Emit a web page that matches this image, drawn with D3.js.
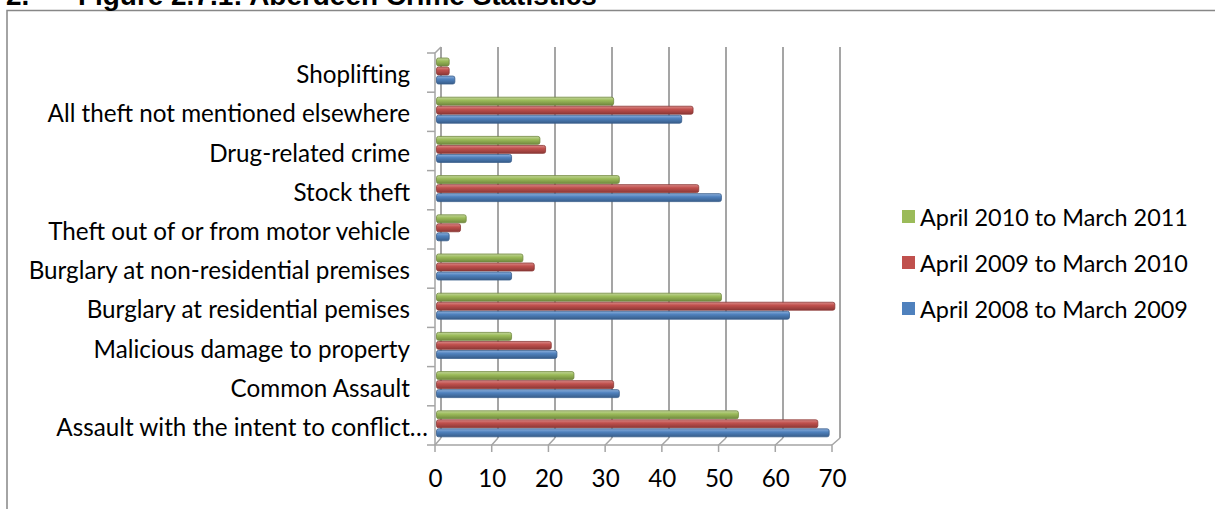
<!DOCTYPE html>
<html lang="en">
    <head>
        <meta charset="utf-8">
        <title>Aberdeen Crime Statistics</title>
        <script src="https://cdn.jsdelivr.net/npm/d3@7"></script>
        <style type="text/css">
            body {margin: 0; background: #fff; overflow: hidden;}
            svg {display: block;}
            text {font-family: Lato, "Noto Sans", sans-serif; fill: #000;}
        </style>
    </head>
    <body>
        <svg width="1215" height="509"></svg>
        <script>
            // data, top row first
            var categories = [
                'Shoplifting',
                'All theft not mentioned elsewhere',
                'Drug-related crime',
                'Stock theft',
                'Theft out of or from motor vehicle',
                'Burglary at non-residential premises',
                'Burglary at residential pemises',
                'Malicious damage to property',
                'Common Assault',
                'Assault with the intent to conflict\u2026'
            ];
            var seriesNames = ['April 2010 to March 2011', 'April 2009 to March 2010', 'April 2008 to March 2009'];
            var values2010 = [2.5, 31.5, 18.5, 32.5, 5.5, 15.5, 50.5, 13.5, 24.5, 53.5];
            var values2009 = [2.5, 45.5, 19.5, 46.5, 4.5, 17.5, 70.5, 20.5, 31.5, 67.5];
            var values2008 = [3.5, 43.5, 13.5, 50.5, 2.5, 13.5, 62.5, 21.5, 32.5, 69.5];
            var xTicks = [0, 10, 20, 30, 40, 50, 60, 70];

            var seriesValues = [values2010, values2009, values2008];
            var colors = [
                {base: '#9bbb59', light: '#c3d69b', dark: '#71893f'},
                {base: '#c0504d', light: '#da8a88', dark: '#8c3836'},
                {base: '#4f81bd', light: '#8eb0dc', dark: '#385d8a'}
            ];

            var svg = d3.select('svg');
            var defs = svg.append('defs');
            colors.forEach(function(c, i) {
                var g = defs.append('linearGradient')
                    .attr('id', 'bar' + i)
                    .attr('x1', 0).attr('y1', 0).attr('x2', 0).attr('y2', 1);
                g.append('stop').attr('offset', '0%').attr('stop-color', c.light);
                g.append('stop').attr('offset', '40%').attr('stop-color', c.base);
                g.append('stop').attr('offset', '100%').attr('stop-color', c.dark);
            });

            // frame + title (the title sits half above the page, as in the source)
            svg.append('path')
                .attr('d', 'M7,509V10.5H1215')
                .attr('fill', 'none')
                .attr('stroke', '#878787')
                .attr('stroke-width', 1.5);
            var title = svg.append('text')
                .attr('x', 78).attr('y', 5)
                .style('font-family', '"Liberation Sans", Arial, sans-serif')
                .style('font-weight', 'bold')
                .style('font-size', '21px')
                .text('Figure 2.7.1: Aberdeen Crime Statistics');
            var titleSize = 21 * 519 / title.node().getComputedTextLength();
            title.style('font-size', titleSize + 'px');
            svg.append('text')
                .attr('x', 6).attr('y', 5)
                .style('font-family', '"Liberation Sans", Arial, sans-serif')
                .style('font-weight', 'bold')
                .style('font-size', titleSize + 'px')
                .text('2.');

            // scales: front plane and back wall of the 3d plot
            var x = d3.scaleLinear().domain([0, 70]).range([435, 832]);
            var xBack = d3.scaleLinear().domain([0, 70]).range([441, 840]);
            var y = d3.scaleBand().domain(categories).range([53, 445]);
            var ySub = d3.scaleBand().domain(d3.range(3)).range([5, 31]).paddingInner(0.12);
            var backTop = 47, backBottom = 438, front = 445;

            // font sizes fitted to the reference text widths
            var probe = svg.append('text').style('font-size', '20px').text('Theft out of or from motor vehicle');
            var fontSize = 20 * 362 / probe.node().getComputedTextLength();
            probe.text(seriesNames[0]);
            var legendSize = 20 * 268 / probe.node().getComputedTextLength();
            probe.remove();

            var grid = svg.append('g').attr('stroke', '#a5a5a5').attr('fill', 'none');
            grid.selectAll('line.grid')
                .data(xTicks)
                .enter()
                .append('line')
                .attr('class', 'grid')
                .attr('x1', function(d) { return xBack(d); })
                .attr('x2', function(d) { return xBack(d); })
                .attr('y1', backTop)
                .attr('y2', backBottom)
                .attr('stroke-width', 2);
            // floor diagonals and x ticks
            grid.selectAll('path.floor')
                .data(xTicks)
                .enter()
                .append('path')
                .attr('class', 'floor')
                .attr('d', function(d) {
                    return 'M' + xBack(d) + ',' + backBottom + 'L' + x(d) + ',' + front + 'V' + (front + 7);
                })
                .attr('stroke-width', 1.5);
            grid.append('line')
                .attr('x1', x(0)).attr('x2', x(70))
                .attr('y1', front).attr('y2', front)
                .attr('stroke-width', 1.5);
            // left axis with category ticks
            grid.append('path')
                .attr('d', 'M' + xBack(0) + ',' + backTop + 'L' + x(0) + ',' + y.range()[0] + 'V' + front)
                .attr('stroke-width', 1.5);
            var bounds = categories.map(function(c) { return y(c); }).concat([front]);
            grid.selectAll('line.ytick')
                .data(bounds)
                .enter()
                .append('line')
                .attr('class', 'ytick')
                .attr('x1', x(0) - 8).attr('x2', x(0))
                .attr('y1', function(d) { return d; })
                .attr('y2', function(d) { return d; })
                .attr('stroke-width', 1.5);

            // bars
            var rows = svg.append('g')
                .selectAll('g')
                .data(categories)
                .enter()
                .append('g')
                .attr('transform', function(d) { return 'translate(0,' + y(d) + ')'; });
            rows.selectAll('rect')
                .data(function(d, i) {
                    return seriesValues.map(function(s, k) { return {k: k, v: s[i]}; });
                })
                .enter()
                .append('rect')
                .attr('x', x(0) + 1.5)
                .attr('y', function(d) { return ySub(d.k); })
                .attr('width', function(d) { return x(d.v) - x(0) - 1.5; })
                .attr('height', ySub.bandwidth())
                .attr('rx', 2)
                .attr('fill', function(d) { return 'url(#bar' + d.k + ')'; })
                .attr('stroke', function(d) { return colors[d.k].dark; })
                .attr('stroke-width', 0.8);

            // category labels
            svg.append('g')
                .selectAll('text')
                .data(categories)
                .enter()
                .append('text')
                .attr('x', function(d) { return d.slice(-1) === '\u2026' ? 428 : 410; })
                .attr('y', function(d) { return y(d) + y.bandwidth() / 2 + 1; })
                .attr('text-anchor', 'end')
                .attr('dominant-baseline', 'central')
                .style('font-size', fontSize + 'px')
                .text(function(d) { return d; });

            // value axis labels
            var xAxis = svg.append('g')
                .attr('transform', 'translate(0,' + (front + 7) + ')')
                .call(d3.axisBottom(x).tickValues(xTicks).tickSize(0).tickPadding(18));
            xAxis.select('.domain').remove();
            xAxis.selectAll('text')
                .style('font-family', 'Lato, "Noto Sans", sans-serif')
                .style('font-size', fontSize + 'px')
                .attr('fill', '#000');

            // legend
            var legend = svg.append('g')
                .selectAll('g')
                .data(seriesNames)
                .enter()
                .append('g')
                .attr('transform', function(d, i) { return 'translate(902,' + (216 + i * 46) + ')'; });
            legend.append('rect')
                .attr('x', 0).attr('y', -6)
                .attr('width', 13).attr('height', 13)
                .attr('fill', function(d, i) { return colors[i].base; });
            legend.append('text')
                .attr('x', 18)
                .attr('y', 1)
                .attr('dominant-baseline', 'central')
                .style('font-size', legendSize + 'px')
                .text(function(d) { return d; });
        </script>
    </body>
</html>
